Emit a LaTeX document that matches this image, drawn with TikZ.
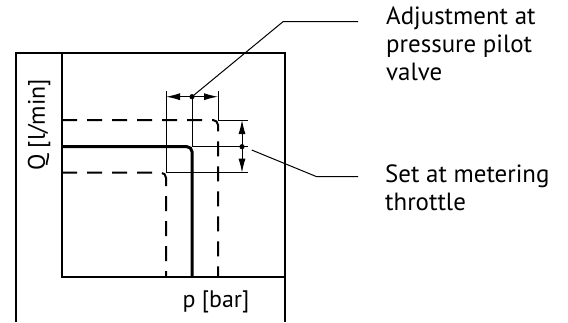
\documentclass[tikz,border=0pt]{standalone}
\usepackage{fontspec}
\setmainfont{PT Sans}
\usetikzlibrary{arrows.meta}

\tikzset{
	thin line/.style={line width=1bp},
	frame line/.style={line width=1.5bp},
	bold curve/.style={line width=3bp, rounded corners=5bp},
	dash curve/.style={line width=2bp, dash pattern=on 15bp off 10bp, rounded corners=5bp},
	dim arrow/.style={thin line, -{Latex[length=14bp, width=7bp]}},
	label text/.style={font=\fontsize{25}{28}\selectfont, align=left, inner sep=0pt, anchor=north west},
	axis text/.style={font=\fontsize{24}{28}\selectfont, inner sep=0pt}
}

\begin{document}
\begin{tikzpicture}[x=1bp, y=-1bp]
	\useasboundingbox (0,0) rectangle (568,322);
	% frames
	\coordinate (frameBL) at (16,322);
	\coordinate (frameTL) at (16,53);
	\coordinate (frameTR) at (285,53);
	\coordinate (frameBR) at (285,322);
	\coordinate (plotTL) at (62,53);
	\coordinate (plotBL) at (62,277);
	\coordinate (plotBR) at (285,277);
	\draw[frame line] (frameBL) -- (frameTL) -- (frameTR) -- (frameBR);
	\draw[frame line] (plotTL) -- (plotBL) -- (plotBR);
	% characteristic curves
	\coordinate (setQ) at (62,146.7);
	\coordinate (setP) at (192,277);
	\coordinate (highQ) at (62,120);
	\coordinate (highP) at (218,277);
	\coordinate (lowQ) at (62,172.7);
	\coordinate (lowP) at (166,277);
	\draw[bold curve] (setQ) -| (setP);
	\draw[dash curve] (highQ) -| (highP);
	\draw[dash curve] (lowQ) -| (lowP);
	% pressure adjustment
	\coordinate (pDot) at (192,96.7);
	\coordinate (pLeft) at (166,96.7);
	\coordinate (pRight) at (218,96.7);
	\draw[thin line] (166,91) -- (166,172.7);
	\draw[thin line] (218,91) -- (218,120);
	\draw[thin line] (pDot) -- (192,146.7);
	\draw[dim arrow] (pDot) -- (pLeft);
	\draw[dim arrow] (pDot) -- (pRight);
	\fill (pDot) circle (2.6bp);
	% flow setting
	\coordinate (qDot) at (242,146.7);
	\coordinate (qTop) at (242,120);
	\coordinate (qBottom) at (242,172.7);
	\draw[thin line] (218,120) -- (248,120);
	\draw[thin line] (192,146.7) -- (248,146.7);
	\draw[thin line] (166,172.7) -- (248,172.7);
	\draw[dim arrow] (qDot) -- (qTop);
	\draw[dim arrow] (qDot) -- (qBottom);
	\fill (qDot) circle (2.6bp);
	% labels
	\node[label text] (adjLabel) at (386,7) {Adjustment at\\pressure pilot\\valve};
	\node[label text] (setLabel) at (385,165) {Set at metering\\throttle};
	\node[axis text, rotate=90] (qLabel) at (39,125) {Q [l/min]};
	\node[axis text] (pLabel) at (216,302) {p [bar]};
	\draw[thin line] (pDot) -- (283,21.7) -- (358,21.7);
	\draw[thin line] (251.7,150) -- (316.7,176.7) -- (358,176.7);
\end{tikzpicture}
\end{document}
